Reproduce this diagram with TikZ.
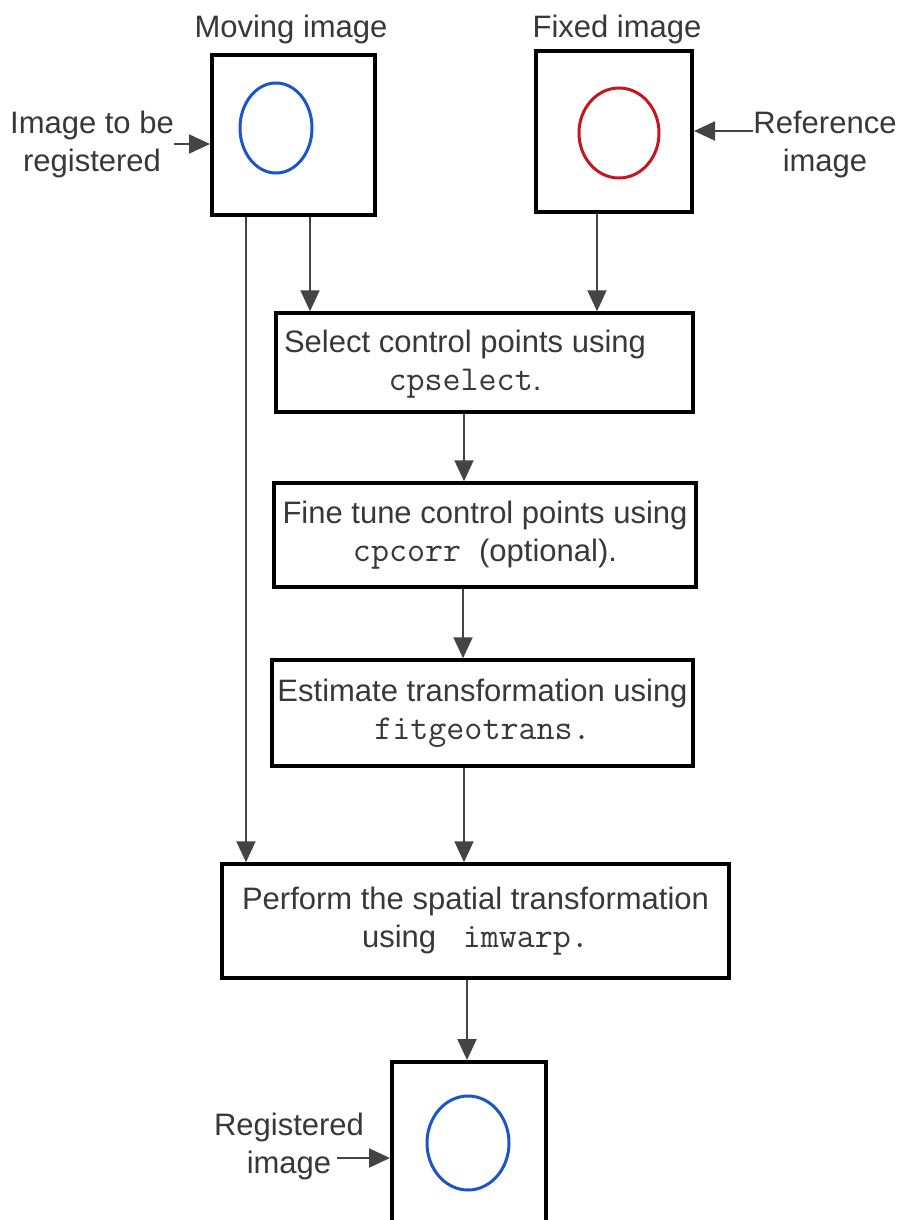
\documentclass[tikz,border=0pt]{standalone}
\usepackage{fontspec}
\setmainfont{Liberation Sans}
\usetikzlibrary{arrows.meta,calc}
\definecolor{txt}{HTML}{383838}
\definecolor{arr}{HTML}{444444}
\definecolor{blu}{HTML}{1C55C4}
\definecolor{rd}{HTML}{C4161C}
\newcommand\mycode[1]{{\fontsize{35}{38}\selectfont\ttfamily #1}}
\begin{document}
\begin{tikzpicture}[x=1pt,y=-1pt,
  every node/.style={font=\fontsize{31}{38}\selectfont, text=txt, inner sep=0pt},
  imgbox/.style={draw=black, line width=4pt, rectangle},
  stepbox/.style={draw=black, line width=3.5pt, rectangle, align=center},
  lbl/.style={align=center},
  conn/.style={draw=arr, line width=2pt, -{Triangle[width=19pt,length=21pt]}}]
\useasboundingbox (0,0) rectangle (902,1220);
\clip (0,0) rectangle (902,1220);
% image boxes
\node[imgbox, minimum width=163pt, minimum height=160pt] (mov) at (293.5,135) {};
\node[imgbox, minimum width=156pt, minimum height=161pt] (fix) at (614,131.5) {};
\node[imgbox, minimum width=154pt, minimum height=180pt] (res) at (469,1152) {};
\draw[blu, line width=3pt] (276,128) ellipse [x radius=36, y radius=45];
\draw[rd, line width=3pt] (619,133) ellipse [x radius=40, y radius=45];
\draw[blu, line width=3pt] (468,1143) ellipse [x radius=41, y radius=47];
% titles and side labels
\node (movt) at (291,29) {Moving image};
\node (fixt) at (617,29) {Fixed image};
\node[lbl] (lblL) at (92,144) {Image to be\\registered};
\node[lbl] (lblR) at (825,145) {Reference\\image};
\node[lbl] (lblB) at (289,1146) {Registered\\image};
\coordinate (regstart) at (337,1158);
% step boxes
\node[stepbox, minimum width=417pt, minimum height=99pt] (sel) at (484.5,362.5) {};
\node[lbl] (seltxt) at (465,364) {Select control points using\\\mycode{cpselect}.};
\node[stepbox, minimum width=422pt, minimum height=104pt] (fin) at (485,535) {Fine tune control points using\\\mycode{cpcorr\ }(optional).};
\node[stepbox, minimum width=421pt, minimum height=106pt] (est) at (482.5,713) {Estimate transformation using\\\mycode{fitgeotrans.}};
\node[stepbox, minimum width=507pt, minimum height=114pt] (per) at (475.5,921) {Perform the spatial transformation\\using \mycode{ imwarp.}};
% connectors
\draw[conn] (lblL.east) -- (lblL.east -| mov.west);
\draw[conn] (lblR.west |- 0,131) -- (fix.east |- 0,131);
\draw[conn] (regstart) -- (regstart -| res.west);
\draw[conn] (mov.south -| 310,0) -- (sel.north -| 310,0);
\draw[conn] (fix.south -| 597,0) -- (sel.north -| 597,0);
\draw[conn] (mov.south -| 246,0) -- (per.north -| 246,0);
\draw[conn] (sel.south -| 464,0) -- (fin.north -| 464,0);
\draw[conn] (fin.south -| 463,0) -- (est.north -| 463,0);
\draw[conn] (est.south -| 464,0) -- (per.north -| 464,0);
\draw[conn] (per.south -| 467,0) -- (res.north -| 467,0);
\end{tikzpicture}
\end{document}
